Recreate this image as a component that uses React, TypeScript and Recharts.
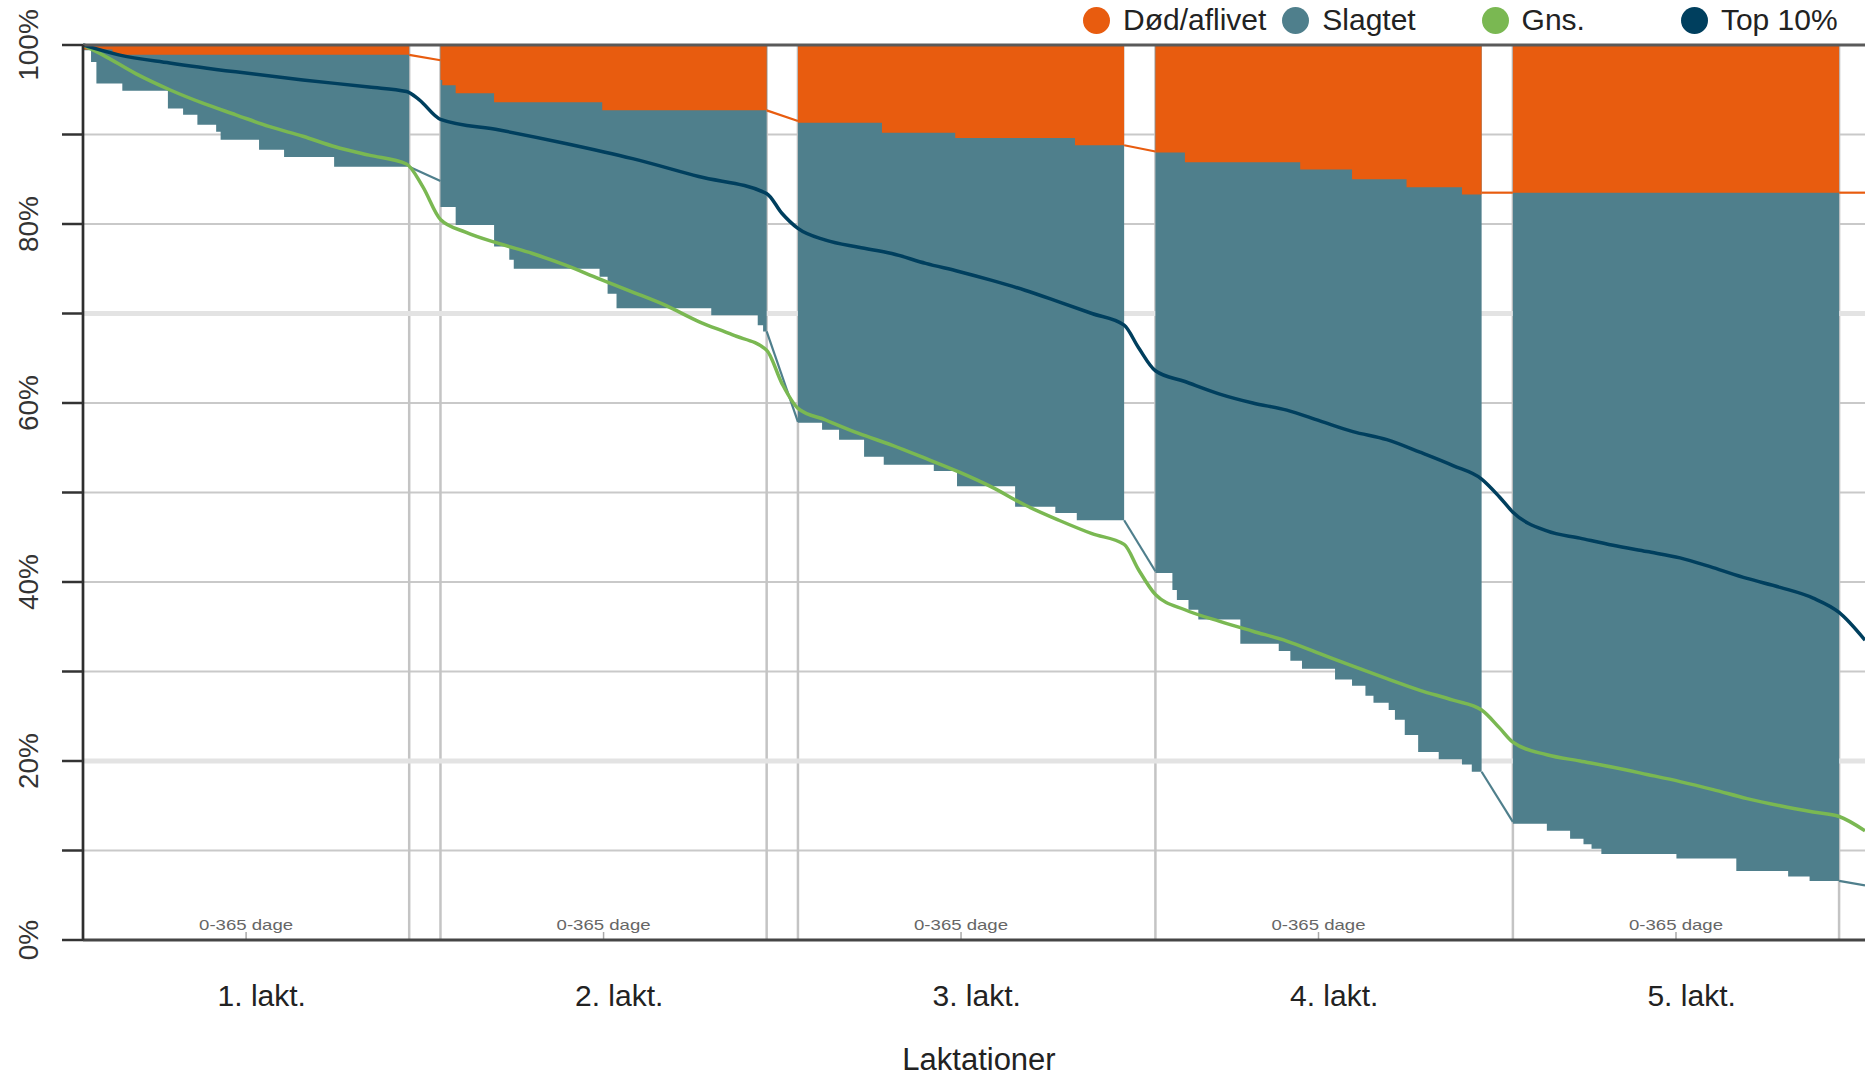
import React from "react"
import {
  ComposedChart,
  Area,
  Line,
  XAxis,
  YAxis,
  CartesianGrid,
  ReferenceLine,
} from "recharts"

const FONT = '"Liberation Sans", Arial, Helvetica, sans-serif'

// x = days since first calving; each lactation = 365 days + 35 days dry period
const lactationLabels = ["1. lakt.", "2. lakt.", "3. lakt.", "4. lakt.", "5. lakt."]
const lactationTicks = [200, 600, 1000, 1400, 1800]
const panelCenters = [182.5, 582.5, 982.5, 1382.5, 1782.5]
const panelBounds = [365, 400, 765, 800, 1165, 1200, 1565, 1600, 1965]
const yTicks = [0, 10, 20, 30, 40, 50, 60, 70, 80, 90, 100]
const highlightLines = [70, 20]

// Død/aflivet: lower edge of the orange band, per lactation
const dodPanels = [
  [[0, 99.5], [33, 98.9], [365, 98.9]],
  [[400, 96.1], [402, 95.5], [417, 94.6], [460, 93.6], [581, 92.7], [765, 92.7]],
  [[800, 91.3], [894, 90.2], [976, 89.6], [1110, 88.8], [1165, 88.8]],
  [[1200, 88.0], [1233, 86.9], [1362, 86.1], [1420, 85.0], [1481, 84.1], [1543, 83.3], [1565, 83.3]],
  [[1600, 83.5], [1965, 83.5]],
]
const dodGaps = [
  [[365, 98.9], [400, 98.3]],
  [[765, 92.7], [800, 91.5]],
  [[1165, 88.8], [1200, 88.1]],
  [[1565, 83.5], [1600, 83.5]],
  [[1965, 83.5], [1994, 83.5]],
]

// Slagtet: lower edge of the teal band, per lactation
const slagtPanels = [
  [[0, 99.4], [9, 98.1], [15, 95.7], [44, 94.9], [95, 92.9], [112, 92.2], [128, 91.1], [149, 90.3],
    [154, 89.4], [197, 88.3], [225, 87.5], [281, 86.4], [365, 86.4]],
  [[400, 81.9], [417, 79.9], [460, 77.5], [477, 76.0], [482, 75.0], [578, 74.1], [587, 72.2],
    [597, 70.6], [703, 69.8], [755, 68.7], [761, 68.0], [765, 68.0]],
  [[800, 57.8], [827, 57.0], [846, 55.9], [874, 54.0], [896, 53.1], [952, 52.4], [978, 50.7],
    [1043, 48.4], [1088, 47.7], [1112, 46.9], [1165, 46.9]],
  [[1200, 41.0], [1219, 39.1], [1224, 38.0], [1237, 36.9], [1248, 35.8], [1295, 33.1], [1338, 32.3],
    [1351, 31.2], [1364, 30.3], [1401, 29.1], [1420, 28.4], [1435, 27.3], [1444, 26.5], [1461, 25.7],
    [1468, 24.6], [1479, 22.9], [1494, 21.0], [1517, 20.2], [1543, 19.6], [1554, 18.8], [1565, 18.8]],
  [[1600, 13.0], [1638, 12.2], [1664, 11.3], [1679, 10.7], [1688, 10.2], [1699, 9.6], [1783, 9.1],
    [1850, 7.7], [1908, 7.1], [1932, 6.6], [1965, 6.6]],
]
const slagtGaps = [
  [[365, 86.4], [400, 84.8]],
  [[765, 68.0], [800, 57.9]],
  [[1165, 46.9], [1200, 41.2]],
  [[1565, 18.8], [1600, 13.2]],
  [[1965, 6.6], [1994, 6.1]],
]

const gnsPoints = [
  [0, 100], [22, 98.9], [59, 96.8], [97, 95.0], [134, 93.5], [171, 92.2], [208, 90.9], [246, 89.8],
  [283, 88.6], [320, 87.7], [362, 86.7], [380, 84.2], [400, 80.5], [428, 79.1], [466, 77.8],
  [503, 76.7], [540, 75.4], [577, 73.9], [615, 72.4], [652, 70.9], [689, 69.1], [727, 67.6],
  [765, 65.9], [782, 62.2], [800, 59.4], [831, 58.1], [868, 56.6], [905, 55.3], [943, 53.8],
  [980, 52.3], [1017, 50.6], [1054, 48.6], [1092, 46.9], [1129, 45.4], [1165, 44.2], [1181, 41.4],
  [1200, 38.6], [1233, 36.9], [1272, 35.6], [1309, 34.5], [1347, 33.4], [1384, 32.0], [1421, 30.6],
  [1459, 29.2], [1496, 27.9], [1533, 26.8], [1565, 25.7], [1585, 23.7], [1600, 22.1], [1638, 20.7],
  [1675, 20.0], [1712, 19.3], [1750, 18.5], [1787, 17.7], [1824, 16.8], [1862, 15.8], [1899, 15.0],
  [1936, 14.3], [1965, 13.8], [1994, 12.2],
]

const top10Points = [
  [0, 100], [40, 98.9], [97, 98.0], [171, 97.0], [246, 96.1], [320, 95.3], [362, 94.8], [376, 93.9],
  [400, 91.7], [466, 90.5], [540, 89.0], [615, 87.3], [689, 85.3], [765, 83.4], [782, 81.2],
  [800, 79.5], [831, 78.2], [868, 77.4], [905, 76.7], [943, 75.6], [980, 74.7], [1017, 73.7],
  [1054, 72.6], [1092, 71.3], [1129, 70.0], [1165, 68.7], [1181, 66.2], [1200, 63.6], [1233, 62.4],
  [1272, 61.0], [1309, 60.0], [1347, 59.2], [1384, 58.0], [1421, 56.8], [1459, 55.9], [1496, 54.5],
  [1533, 53.0], [1565, 51.5], [1585, 49.5], [1600, 47.8], [1638, 45.7], [1675, 44.9], [1712, 44.1],
  [1750, 43.4], [1787, 42.7], [1824, 41.6], [1862, 40.4], [1899, 39.4], [1936, 38.2], [1965, 36.6],
  [1994, 33.5],
]

const legendNames = ["Død/aflivet", "Slagtet", "Gns.", "Top 10%"]

const ORANGE = "#e85c0f"
const TEAL = "#4f7f8c"
const GREEN = "#7ab852"
const NAVY = "#003f5e"
const legendColors = [ORANGE, TEAL, GREEN, NAVY]

const rows = (pts: number[][]) => pts.map(([day, v]) => ({ day, v }))

function YTick({ y, payload }: any) {
  if (payload.value % 20 !== 0) return <g />
  return (
    <text
      x={28}
      y={y}
      transform={`rotate(-90 28 ${y})`}
      textAnchor="middle"
      dominantBaseline="central"
      fontSize={28}
      fontFamily={FONT}
      fill="#333"
    >
      {payload.value}%
    </text>
  )
}

function XTick({ x, y, payload }: any) {
  const i = lactationTicks.indexOf(payload.value)
  return (
    <text x={x} y={y + 66} textAnchor="middle" fontSize={30} fontFamily={FONT} fill="#222">
      {lactationLabels[i]}
    </text>
  )
}

function DageLabel({ viewBox }: any) {
  const bottom = viewBox.y + viewBox.height
  return (
    <g>
      <text
        x={viewBox.x}
        y={bottom - 10}
        textAnchor="middle"
        fontSize={15}
        fontFamily={FONT}
        fill="#666"
        textLength={94}
        lengthAdjust="spacingAndGlyphs"
      >
        0-365 dage
      </text>
      <line x1={viewBox.x} x2={viewBox.x} y1={bottom - 8} y2={bottom} stroke="#aaa" strokeWidth={1.5} />
    </g>
  )
}

export default function App() {
  return (
    <div style={{ position: "relative", width: 1865, height: 1078, background: "#fff", fontFamily: FONT }}>
      <style>{"body{margin:0}"}</style>

      <div style={{ position: "absolute", top: 6, left: 1083, display: "flex" }}>
        {legendNames.map((name, i) => (
          <div key={name} style={{ width: 199.3, display: "flex", alignItems: "center", height: 28 }}>
            <span
              style={{
                width: 27,
                height: 27,
                borderRadius: "50%",
                background: legendColors[i],
                display: "inline-block",
                marginRight: 13,
              }}
            />
            <span style={{ fontSize: 30, color: "#222", lineHeight: "28px" }}>{name}</span>
          </div>
        ))}
      </div>

      <ComposedChart width={1865} height={1078} margin={{ top: 45, right: 0, bottom: 0, left: 0 }}>
        <CartesianGrid horizontal vertical={false} stroke="#c9c9c9" strokeWidth={2} />
        <CartesianGrid horizontal={false} vertical verticalValues={panelBounds} stroke="#c4c4c4" strokeWidth={2.5} />
        <CartesianGrid horizontal vertical={false} horizontalValues={highlightLines} stroke="#e3e3e3" strokeWidth={5} />
        <XAxis
          dataKey="day"
          type="number"
          domain={[0, 1994]}
          allowDataOverflow
          ticks={lactationTicks}
          tick={<XTick />}
          tickLine={false}
          tickSize={0}
          tickMargin={0}
          height={138}
          axisLine={{ stroke: "#454545", strokeWidth: 3 }}
          label={{ value: "Laktationer", position: "insideBottom", offset: 8, dx: 5, fontSize: 31, fill: "#222", fontFamily: FONT }}
        />
        <YAxis
          type="number"
          domain={[0, 100]}
          ticks={yTicks}
          width={83}
          tick={<YTick />}
          tickSize={21}
          tickLine={{ stroke: "#333", strokeWidth: 2.5 }}
          axisLine={{ stroke: "#2e2e2e", strokeWidth: 2.7 }}
        />

        {panelCenters.map((c) => (
          <ReferenceLine key={`c${c}`} x={c} stroke="none" label={<DageLabel />} />
        ))}

        {slagtPanels.map((p, i) => (
          <Area
            key={`s${i}`}
            data={rows(p)}
            dataKey="v"
            type="stepAfter"
            baseValue={100}
            fill={TEAL}
            fillOpacity={1}
            stroke="none"
            dot={false}
            activeDot={false}
            isAnimationActive={false}
          />
        ))}
        {dodPanels.map((p, i) => (
          <Area
            key={`d${i}`}
            data={rows(p)}
            dataKey="v"
            type="stepAfter"
            baseValue={100}
            fill={ORANGE}
            fillOpacity={1}
            stroke="none"
            dot={false}
            activeDot={false}
            isAnimationActive={false}
          />
        ))}
        {slagtGaps.map((p, i) => (
          <Line
            key={`sg${i}`}
            data={rows(p)}
            dataKey="v"
            type="linear"
            stroke={TEAL}
            strokeWidth={2.2}
            dot={false}
            activeDot={false}
            isAnimationActive={false}
          />
        ))}
        {dodGaps.map((p, i) => (
          <Line
            key={`dg${i}`}
            data={rows(p)}
            dataKey="v"
            type="linear"
            stroke={ORANGE}
            strokeWidth={2.2}
            dot={false}
            activeDot={false}
            isAnimationActive={false}
          />
        ))}
        <Line
          data={rows(gnsPoints)}
          dataKey="v"
          name="Gns."
          type="monotone"
          stroke={GREEN}
          strokeWidth={3.5}
          dot={false}
          activeDot={false}
          isAnimationActive={false}
        />
        <Line
          data={rows(top10Points)}
          dataKey="v"
          name="Top 10%"
          type="monotone"
          stroke={NAVY}
          strokeWidth={3.5}
          dot={false}
          activeDot={false}
          isAnimationActive={false}
        />
        <ReferenceLine y={100} stroke="#5a5a5a" strokeWidth={3} />
      </ComposedChart>
    </div>
  )
}
